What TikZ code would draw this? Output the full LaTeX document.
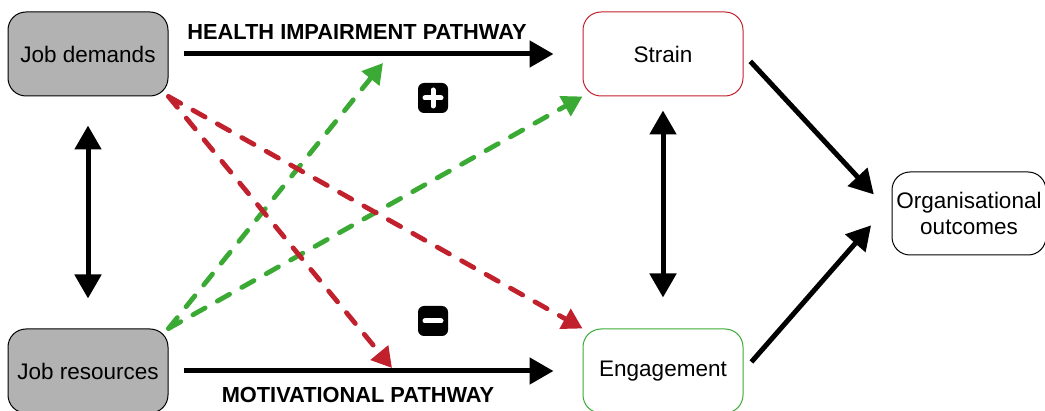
\documentclass[tikz,border=0pt]{standalone}
\usepackage{fontspec}
\setmainfont{Liberation Sans}
\usetikzlibrary{positioning,arrows.meta}
\definecolor{jdgreen}{RGB}{58,170,53}
\definecolor{jdred}{RGB}{193,32,45}
\tikzset{
    boxnode/.style={ % rounded box, text centred
        draw,
        rounded corners=18pt,
        minimum width=160pt,
        minimum height=84pt,
        line width=1pt,
        align=center,
        font=\fontsize{22.5}{26}\selectfont
    },
    greybox/.style={boxnode, fill=gray!60},
    mainarrow/.style={line width=5pt, -{Triangle[length=24pt,width=26pt]}},
    bothways/.style={line width=5pt, {Triangle[length=24pt,width=26pt]}-{Triangle[length=24pt,width=26pt]}},
    dasharrow/.style={line width=4.8pt, line cap=round, dash pattern=on 14pt off 14pt, -{Triangle[length=20pt,width=22pt]}},
    pathlabel/.style={font=\fontsize{21.8}{24}\selectfont\bfseries},
    signbox/.style={fill=black, rounded corners=6pt, minimum size=30pt, inner sep=0pt}
}

\begin{document}
\begin{tikzpicture}[x=1pt,y=1pt]
        \def\len{232}
        \useasboundingbox (0,0) rectangle (1045,410);
        \node[greybox] (JD) at (88,356) {Job demands};
        \node[greybox, below = \len pt of JD] (JR) {Job resources};
        \node[boxnode, draw=jdred, right = 414pt of JD] (S) {Strain};
        \node[boxnode, draw=jdgreen, below = \len pt of S] (E) {Engagement};
        \node[boxnode, minimum width=154pt, minimum height=83pt, below right = 75pt and 148pt of S] (O) {Organisational\\outcomes};

        \coordinate (g1) at (383,347);
        \coordinate (r1) at (392,42);

        \draw[dasharrow, jdgreen] (JR.north east) -- (g1);
        \draw[dasharrow, jdgreen] (JR.north east) -- (S.south west);
        \draw[dasharrow, jdred] (JD.south east) -- (r1);
        \draw[dasharrow, jdred] (JD.south east) -- (E.north west);

        \draw[mainarrow, shorten <=15pt, shorten >=29pt] (JD) -- (S);
        \draw[mainarrow, shorten <=15pt, shorten >=29pt] (JR) -- (E);
        \draw[bothways, shorten <=29pt, shorten >=30pt] (JD) -- (JR);
        \draw[bothways, shorten <=14pt, shorten >=31pt] (S) -- (E);
        \draw[mainarrow, shorten <=10pt, shorten >=26pt] (S.east) -- (O.west);
        \draw[mainarrow, shorten <=12pt, shorten >=31pt] (E.east) -- ([yshift=11.5pt]O.west);

        \node[pathlabel] (hip) at (357,378) {HEALTH IMPAIRMENT PATHWAY};
        \node[pathlabel] (mp) at (358,15) {MOTIVATIONAL PATHWAY};

        \node[signbox, path picture={
            \draw[white, line width=5pt, line cap=round]
                (path picture bounding box.center) +(-8pt,0) -- +(8pt,0)
                (path picture bounding box.center) +(0,-8pt) -- +(0,8pt);
        }] (plus) at (433,312) {};
        \node[signbox, path picture={
            \draw[white, line width=5pt, line cap=round]
                (path picture bounding box.center) +(-8pt,0) -- +(8pt,0);
        }] (minus) at (433,89) {};
\end{tikzpicture}
\end{document}
